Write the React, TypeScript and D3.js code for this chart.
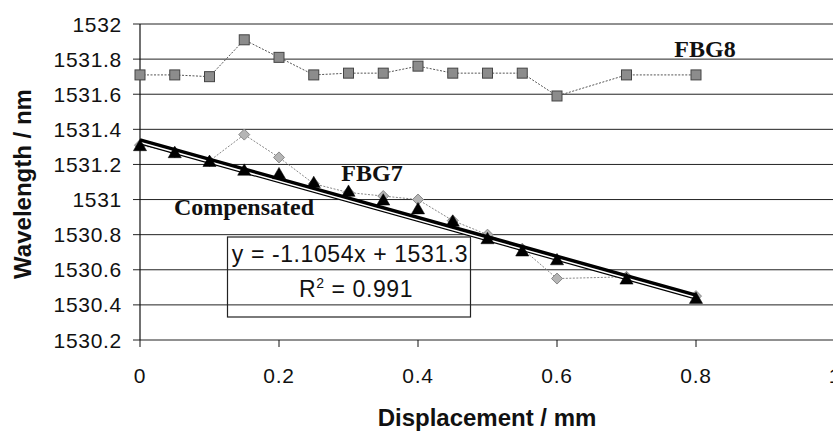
import React from "react";
import * as d3 from "d3";

const xValues = [0, 0.05, 0.1, 0.15, 0.2, 0.25, 0.3, 0.35, 0.4, 0.45, 0.5, 0.55, 0.6, 0.7, 0.8];
const fbg8 = [1531.71, 1531.71, 1531.7, 1531.91, 1531.81, 1531.71, 1531.72, 1531.72, 1531.76, 1531.72, 1531.72, 1531.72, 1531.59, 1531.71, 1531.71];
const fbg7 = [1531.31, 1531.27, 1531.22, 1531.37, 1531.24, 1531.09, 1531.04, 1531.02, 1531.0, 1530.88, 1530.8, 1530.72, 1530.55, 1530.56, 1530.45];
const compensated = [1531.3, 1531.26, 1531.21, 1531.16, 1531.14, 1531.09, 1531.04, 1530.99, 1530.94, 1530.87, 1530.77, 1530.7, 1530.65, 1530.54, 1530.43];
const yTicks = [1530.2, 1530.4, 1530.6, 1530.8, 1531, 1531.2, 1531.4, 1531.6, 1531.8, 1532];
const xTicks = [0, 0.2, 0.4, 0.6, 0.8, 1];
const trendSlope = -1.1054;
const trendIntercept = 1531.34;
const trendRange = [0, 0.8];
const eqLine1 = "y = -1.1054x + 1531.3";
const eqR2 = "0.991";

const W = 833;
const H = 433;

export default function App() {
  const x = d3.scaleLinear().domain([0, 1]).range([140, 835]);
  const y = d3.scaleLinear().domain([1530.2, 1532]).range([340, 24]);

  const line = d3
    .line<[number, number]>()
    .x((d) => x(d[0]))
    .y((d) => y(d[1]));

  const p8 = xValues.map((v, i) => [v, fbg8[i]] as [number, number]);
  const p7 = xValues.map((v, i) => [v, fbg7[i]] as [number, number]);
  const pc = xValues.map((v, i) => [v, compensated[i]] as [number, number]);
  const trend = trendRange.map((v) => [v, trendIntercept + trendSlope * v] as [number, number]);

  const tickFont = { fontFamily: "Arial, 'Liberation Sans', sans-serif", fontSize: 21, letterSpacing: 0.7 };
  const serifBold = { fontFamily: "'Times New Roman', 'Liberation Serif', serif", fontSize: 24, fontWeight: 700 };

  const triPath = d3.symbol().type(d3.symbolTriangle).size(75)();
  const diaPath = "M0,-5.5L5.5,0L0,5.5L-5.5,0Z";

  return (
    <svg width={W} height={H} style={{ position: "absolute", left: 0, top: 0, background: "#fff" }}>
      <rect x={0} y={0} width={W} height={H} fill="#fff" />
      {yTicks.map((t) => (
        <g key={t}>
          <line x1={133} x2={W} y1={y(t)} y2={y(t)} stroke="#222" strokeWidth={1} />
          <text x={122} y={y(t) + 7.5} textAnchor="end" fill="#111" style={tickFont}>
            {String(t)}
          </text>
        </g>
      ))}
      <line x1={x(0)} x2={x(0)} y1={y(1532)} y2={y(1530.2)} stroke="#111" strokeWidth={1.2} />
      {xTicks.map((t) => (
        <g key={t}>
          <line x1={x(t)} x2={x(t)} y1={y(1530.2)} y2={y(1530.2) + 7} stroke="#111" strokeWidth={1} />
          <text x={x(t)} y={383} textAnchor="middle" fill="#111" style={tickFont}>
            {String(t)}
          </text>
        </g>
      ))}
      <text
        x={487}
        y={426}
        textAnchor="middle"
        fill="#111"
        style={{ fontFamily: "Arial, 'Liberation Sans', sans-serif", fontSize: 24, fontWeight: 700 }}
      >
        Displacement / mm
      </text>
      <text
        transform={`translate(31,184) rotate(-90)`}
        textAnchor="middle"
        fill="#111"
        style={{ fontFamily: "Arial, 'Liberation Sans', sans-serif", fontSize: 24, fontWeight: 700 }}
      >
        Wavelength / nm
      </text>

      <path d={line(p8) || ""} fill="none" stroke="#555" strokeWidth={1} strokeDasharray="2,1.5" />
      {p8.map((d, i) => (
        <rect key={i} x={x(d[0]) - 5} y={y(d[1]) - 5} width={10} height={10} fill="#8c8c8c" stroke="#444" strokeWidth={1} />
      ))}

      <path d={line(p7) || ""} fill="none" stroke="#888" strokeWidth={1} strokeDasharray="2,1.5" />
      {p7.map((d, i) => (
        <path key={i} d={diaPath} transform={`translate(${x(d[0])},${y(d[1])})`} fill="#b5b5b5" stroke="#888" strokeWidth={1} />
      ))}

      <path d={line(trend) || ""} fill="none" stroke="#fff" strokeWidth={3} transform="translate(0,2.5)" />
      <path d={line(trend) || ""} fill="none" stroke="#000" strokeWidth={1.2} transform="translate(0,4)" />
      <path d={line(trend) || ""} fill="none" stroke="#000" strokeWidth={3.5} />

      {pc.map((d, i) => (
        <path key={i} d={triPath || ""} transform={`translate(${x(d[0])},${y(d[1])})`} fill="#000" stroke="#000" strokeWidth={0.5} />
      ))}

      <text x={705} y={57} textAnchor="middle" fill="#111" style={serifBold}>
        FBG8
      </text>
      <text x={372} y={181} textAnchor="middle" fill="#111" style={serifBold}>
        FBG7
      </text>
      <text x={174} y={215} fill="#111" style={serifBold}>
        Compensated
      </text>

      <rect x={227.5} y={237} width={243} height={80} fill="none" stroke="#222" strokeWidth={1.2} />
      <text
        x={350}
        y={262}
        textAnchor="middle"
        fill="#111"
        style={{ fontFamily: "Arial, 'Liberation Sans', sans-serif", fontSize: 23, letterSpacing: 0.6 }}
      >
        {eqLine1}
      </text>
      <text
        x={356}
        y={297}
        textAnchor="middle"
        fill="#111"
        style={{ fontFamily: "Arial, 'Liberation Sans', sans-serif", fontSize: 23, letterSpacing: 0.6 }}
      >
        R<tspan dy={-9} fontSize={14}>2</tspan>
        <tspan dy={9}>{` = ${eqR2}`}</tspan>
      </text>
    </svg>
  );
}
